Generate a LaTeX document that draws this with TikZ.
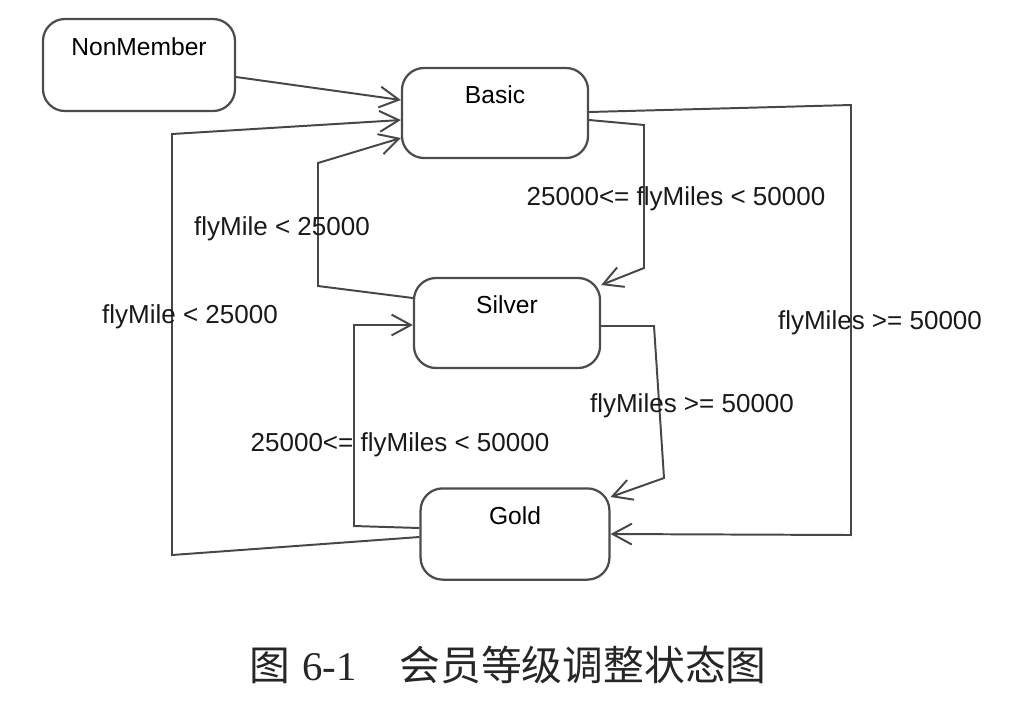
\documentclass[tikz,border=0pt]{standalone}
\usepackage{fontspec}
\setmainfont{Liberation Sans}
\newfontfamily\cjk{Noto Sans CJK SC}
\newfontfamily\capserif{Liberation Serif}
\usetikzlibrary{arrows.meta,calc}
\tikzset{
  statebox/.style={draw=black!70, line width=1.6pt, rounded corners=0.55cm,
    minimum width=4.65cm, minimum height=2.25cm, inner sep=0pt,
    text height=0.4cm, text depth=0.88cm, font=\fontsize{17.5}{20}\selectfont},
  trans/.style={draw=black!72, line width=1.4pt,
    -{Straight Barb[length=4.8mm,width=5.2mm]}},
  guard/.style={inner sep=0pt, text=black!90, font=\fontsize{18.5}{22}\selectfont}
}

\begin{document}
\begin{tikzpicture}[x=0.025cm, y=-0.025cm]
			%%%%% START %%%%%
			\useasboundingbox (0,0) rectangle (1010,706);
			
			\node[statebox, minimum width=4.8cm, minimum height=2.3cm] (nonmember) at (139,65) {NonMember};
			\node[statebox] (basic) at (495,113) {Basic};
			\node[statebox] (silver) at (507,323) {Silver};
			\node[statebox, minimum width=4.72cm, minimum height=2.28cm] (gold) at (515,534) {Gold};
			
			\draw[trans] ($(nonmember.east)+(0,12)$) -- ($(basic.west)+(0,-13)$);
			
			\draw[trans] ($(gold.west)+(0,3)$) -- (172,555) -- (172,134) -- ($(basic.west)+(0,7)$);
			\draw[trans] ($(silver.west)+(0,-25)$) -- (318,286) -- (318,163) -- ($(basic.west)+(0,25)$);
			
			\draw[trans] ($(basic.east)+(0,7)$) -- (644,125) -- (644,268) -- ($(silver.east)+(0,-38)$);
			\draw[trans] ($(basic.east)+(0,-1)$) -- (851,105) -- (851,535) -- (gold.east);
			
			\draw[trans] ($(silver.east)+(0,3)$) -- (654,326) -- (664,478) -- ($(gold.east)+(0,-37)$);
			\draw[trans] ($(gold.west)+(0,-6)$) -- (354,526) -- (354,325) -- ($(silver.west)+(0,2)$);
			
			\node[guard] (basicsilver) at (676,199) {25000<= flyMiles < 50000};
			\node[guard] (silverbasic) at (282,229) {flyMile < 25000};
			\node[guard] (goldbasic) at (190,317) {flyMile < 25000};
			\node[guard] (basicgold) at (880,323) {flyMiles >= 50000};
			\node[guard] (silvergold) at (692,406) {flyMiles >= 50000};
			\node[guard] (goldsilver) at (400,445) {25000<= flyMiles < 50000};
			
			\node[text=black!85] (caption) at (508,665) {\fontsize{29}{32}\selectfont\cjk 图\hspace{0.3em}{\capserif 6-1}\hspace{1.05em}会员等级调整状态图};
			
			%%%%% END %%%%%
\end{tikzpicture}
\end{document}
